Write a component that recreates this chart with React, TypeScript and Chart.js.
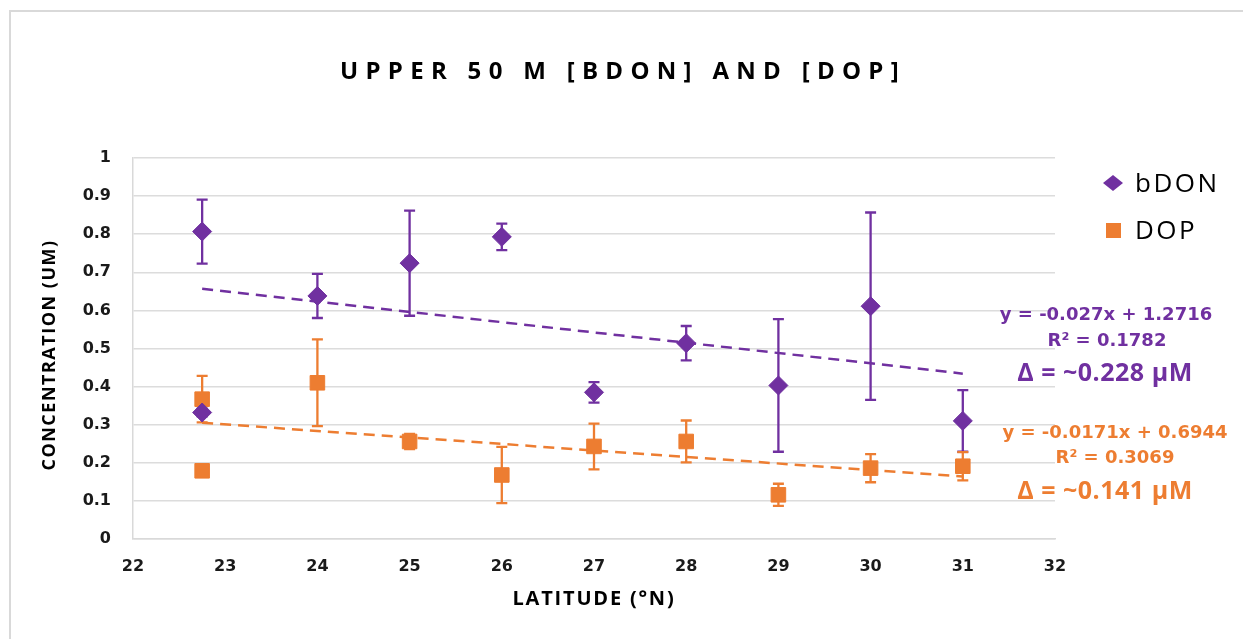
import React, { useEffect, useRef } from 'react';
import { Chart, registerables } from 'chart.js';

Chart.register(...registerables);

const PURPLE = '#7030A0';
const ORANGE = '#ED7D31';

// Data
const latitudes = [22.75, 22.75, 24, 25, 26, 27, 28, 29, 30, 31];
const bdonValues = [0.807, 0.332, 0.638, 0.724, 0.793, 0.385, 0.514, 0.403, 0.611, 0.31];
const bdonErrors = [0.084, 0.01, 0.058, 0.138, 0.035, 0.027, 0.045, 0.174, 0.246, 0.081];
const dopValues = [0.367, 0.179, 0.41, 0.256, 0.168, 0.243, 0.256, 0.116, 0.186, 0.191];
const dopErrors = [0.061, 0.01, 0.114, 0.02, 0.074, 0.06, 0.055, 0.029, 0.037, 0.037];

const trendX = [22.75, 31];
const bdonTrend = [0.657, 0.434];
const dopTrend = [0.305, 0.164];

const xTickLabels = ['22', '23', '24', '25', '26', '27', '28', '29', '30', '31', '32'];
const yTickLabels = ['0', '0.1', '0.2', '0.3', '0.4', '0.5', '0.6', '0.7', '0.8', '0.9', '1'];

const seriesNames = ['bDON', 'DOP'];
const bdonFitText = ['y = -0.027x + 1.2716', 'R² = 0.1782', 'Δ = ~0.228 µM'];
const dopFitText = ['y = -0.0171x + 0.6944', 'R² = 0.3069', 'Δ = ~0.141 µM'];

const chartTitle = 'UPPER 50 M [BDON] AND [DOP]';
const xTitle = 'LATITUDE (°N)';
const yTitle = 'CONCENTRATION (UM)';

function drawText(
  ctx: CanvasRenderingContext2D,
  text: string,
  x: number,
  y: number,
  font: string,
  color: string,
  spacing = 0,
  align: CanvasTextAlign = 'center'
) {
  ctx.save();
  ctx.font = font;
  ctx.fillStyle = color;
  ctx.textAlign = align;
  ctx.textBaseline = 'alphabetic';
  (ctx as any).letterSpacing = spacing + 'px';
  ctx.fillText(text, x, y);
  ctx.restore();
}

const framePlugin = {
  id: 'frame',
  beforeDraw(chart: any) {
    const ctx = chart.ctx as CanvasRenderingContext2D;
    ctx.save();
    ctx.fillStyle = '#ffffff';
    ctx.fillRect(0, 0, chart.width, chart.height);
    ctx.strokeStyle = '#d9d9d9';
    ctx.lineWidth = 2;
    ctx.strokeRect(10, 11, chart.width + 50, chart.height + 50);
    ctx.restore();
  },
};

const errorBarPlugin = {
  id: 'errorBars',
  beforeDatasetsDraw(chart: any) {
    const ctx = chart.ctx as CanvasRenderingContext2D;
    const yScale = chart.scales.y;
    chart.data.datasets.forEach((ds: any, di: number) => {
      if (!ds.errorBars) return;
      const meta = chart.getDatasetMeta(di);
      ctx.save();
      ctx.strokeStyle = ds.borderColor;
      ctx.lineWidth = 2.3;
      meta.data.forEach((pt: any, i: number) => {
        const v = ds.data[i].y;
        const e = ds.errorBars[i];
        const yTop = yScale.getPixelForValue(v + e);
        const yBot = yScale.getPixelForValue(v - e);
        const x = pt.x;
        ctx.beginPath();
        ctx.moveTo(x, yTop);
        ctx.lineTo(x, yBot);
        ctx.moveTo(x - 5.5, yTop);
        ctx.lineTo(x + 5.5, yTop);
        ctx.moveTo(x - 5.5, yBot);
        ctx.lineTo(x + 5.5, yBot);
        ctx.stroke();
      });
      ctx.restore();
    });
  },
};

const textPlugin = {
  id: 'texts',
  afterDraw(chart: any) {
    const ctx = chart.ctx as CanvasRenderingContext2D;
    // Title
    drawText(ctx, chartTitle, 623, 79, 'bold 24px "Open Sans"', '#000000', 7.3);
    // X title
    drawText(ctx, xTitle, 594, 605, 'bold 20px "Open Sans"', '#000000', 1.8);
    // Y title (rotated)
    ctx.save();
    ctx.translate(55, 355);
    ctx.rotate(-Math.PI / 2);
    drawText(ctx, yTitle, 0, 0, 'bold 18px "Open Sans"', '#000000', 1.5);
    ctx.restore();

    // Legend
    ctx.save();
    ctx.fillStyle = PURPLE;
    ctx.beginPath();
    ctx.moveTo(1103, 183);
    ctx.lineTo(1113, 175);
    ctx.lineTo(1123, 183);
    ctx.lineTo(1113, 191);
    ctx.closePath();
    ctx.fill();
    ctx.fillStyle = ORANGE;
    ctx.fillRect(1106, 223, 15, 15);
    ctx.restore();
    drawText(ctx, seriesNames[0], 1135, 192, '26px "Open Sans"', '#000000', 2.5, 'left');
    drawText(ctx, seriesNames[1], 1135, 239, '26px "Open Sans"', '#000000', 2.5, 'left');

    // Fit annotations
    drawText(ctx, bdonFitText[0], 1106, 320, 'bold 18px "DejaVu Sans"', PURPLE);
    drawText(ctx, bdonFitText[1], 1107, 346, 'bold 18px "DejaVu Sans"', PURPLE);
    drawText(ctx, bdonFitText[2], 1105, 381, 'bold 25px "Open Sans"', PURPLE, 0.5);
    drawText(ctx, dopFitText[0], 1115, 438, 'bold 18px "DejaVu Sans"', ORANGE);
    drawText(ctx, dopFitText[1], 1115, 463, 'bold 18px "DejaVu Sans"', ORANGE);
    drawText(ctx, dopFitText[2], 1105, 499, 'bold 25px "Open Sans"', ORANGE, 0.5);
  },
};

export default function App() {
  const canvasRef = useRef<HTMLCanvasElement | null>(null);

  useEffect(() => {
    if (!canvasRef.current) return;
    const chart = new Chart(canvasRef.current, {
      type: 'scatter',
      data: {
        datasets: [
          {
            label: seriesNames[0],
            data: latitudes.map((x, i) => ({ x, y: bdonValues[i] })),
            backgroundColor: PURPLE,
            borderColor: PURPLE,
            borderWidth: 1,
            pointStyle: 'rectRot',
            pointRadius: 9.5,
            order: 0,
            errorBars: bdonErrors,
          } as any,
          {
            label: seriesNames[1],
            data: latitudes.map((x, i) => ({ x, y: dopValues[i] })),
            backgroundColor: ORANGE,
            borderColor: ORANGE,
            borderWidth: 1,
            pointStyle: 'rect',
            pointRadius: 10.3,
            order: 0,
            errorBars: dopErrors,
          } as any,
          {
            label: 'bDON trend',
            data: trendX.map((x, i) => ({ x, y: bdonTrend[i] })),
            borderColor: PURPLE,
            borderWidth: 2.5,
            borderDash: [11, 7],
            showLine: true,
            pointRadius: 0,
            order: 1,
          },
          {
            label: 'DOP trend',
            data: trendX.map((x, i) => ({ x, y: dopTrend[i] })),
            borderColor: ORANGE,
            borderWidth: 2.5,
            borderDash: [11, 7],
            showLine: true,
            pointRadius: 0,
            order: 1,
          },
        ],
      },
      options: {
        animation: false,
        responsive: false,
        events: [],
        layout: { padding: { left: 0, top: 158, right: 188, bottom: 0 } },
        plugins: {
          legend: { display: false },
          title: { display: false },
          tooltip: { enabled: false },
        },
        scales: {
          x: {
            type: 'linear',
            min: 22,
            max: 32,
            ticks: {
              stepSize: 1,
              padding: 18,
              color: '#1a1a1a',
              font: { family: '"DejaVu Sans"', size: 16, weight: 'bold' },
              callback: (_v: any, i: number) => xTickLabels[i],
            },
            grid: { display: false, drawTicks: false },
            border: { display: true, color: '#d9d9d9', width: 1.5 },
            afterFit: (s: any) => {
              s.height = 100;
            },
          },
          y: {
            type: 'linear',
            min: 0,
            max: 1,
            ticks: {
              stepSize: 0.1,
              padding: 22,
              color: '#1a1a1a',
              font: { family: '"DejaVu Sans"', size: 16, weight: 'bold' },
              callback: (_v: any, i: number) => yTickLabels[i],
            },
            grid: { color: '#dcdcdc', lineWidth: 1.5, drawTicks: false },
            border: { display: true, color: '#d9d9d9', width: 1.5 },
            afterFit: (s: any) => {
              s.width = 133;
            },
          },
        },
      } as any,
      plugins: [framePlugin, errorBarPlugin, textPlugin],
    });
    return () => chart.destroy();
  }, []);

  return (
    <div style={{ position: 'fixed', left: 0, top: 0, width: 1243, height: 639, background: '#fff' }}>
      <canvas ref={canvasRef} width={1243} height={639} />
    </div>
  );
}
